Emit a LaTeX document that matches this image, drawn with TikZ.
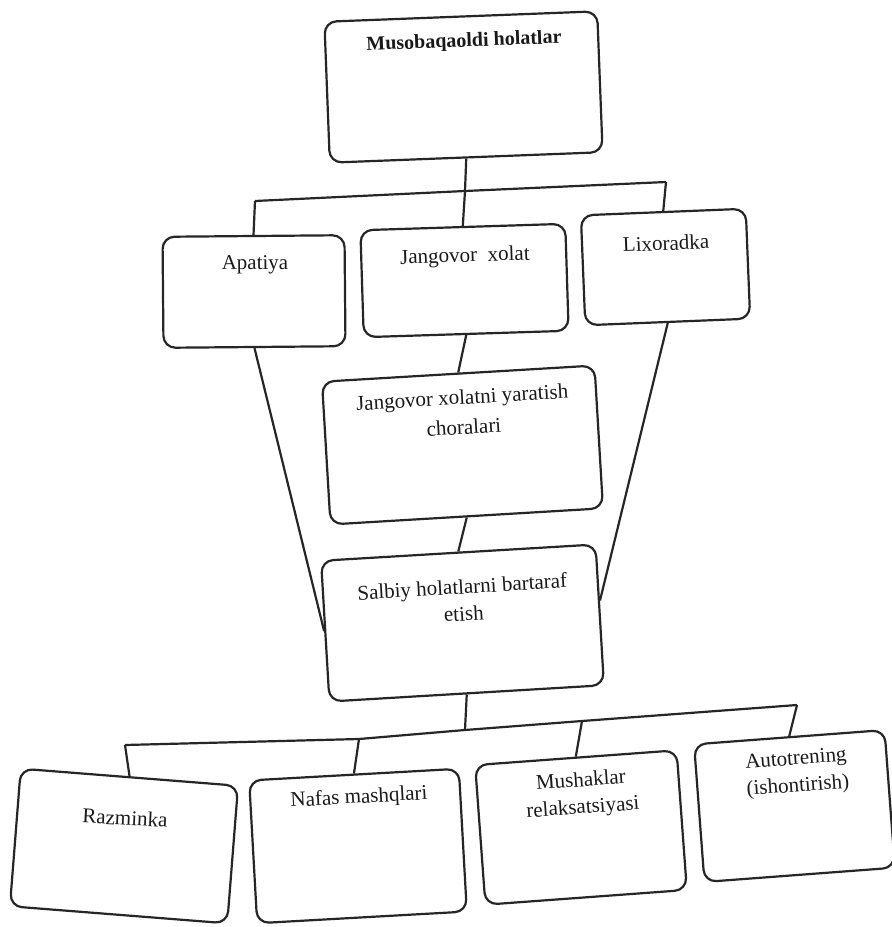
\documentclass[tikz,border=0pt]{standalone}
\usepackage{fontspec}
\setmainfont{Liberation Serif}
\usetikzlibrary{calc}
\begin{document}
\begin{tikzpicture}[x=1pt,y=-1pt,
  box/.style={draw=black!85, line width=2.2pt, rounded corners=12pt, inner sep=0pt},
  lbl/.style={font=\fontsize{21}{25}\selectfont, align=center, inner sep=0pt, text=black!90},
  conn/.style={draw=black!85, line width=2.2pt}
]
\useasboundingbox[fill=white] (0,0) rectangle (892,927);

% boxes
\node[box, minimum width=273pt, minimum height=141pt, rotate=2.2] (top) at (463.5,87) {};
\node[box, minimum width=182pt, minimum height=111pt, rotate=0.5] (apa) at (254,291.5) {};
\node[box, minimum width=205pt, minimum height=107pt, rotate=1.8] (jan) at (464.5,280.5) {};
\node[box, minimum width=165pt, minimum height=110pt, rotate=2.3] (lix) at (665.5,267) {};
\node[box, minimum width=273pt, minimum height=143pt, rotate=3.4] (cho) at (462.5,445) {};
\node[box, minimum width=275pt, minimum height=141pt, rotate=3.4] (sal) at (462.5,623) {};
\node[box, minimum width=218pt, minimum height=138pt, rotate=-4.5] (raz) at (124,846) {};
\node[box, minimum width=210pt, minimum height=143pt, rotate=3.2] (naf) at (358,846) {};
\node[box, minimum width=202pt, minimum height=140pt, rotate=4.2] (mus) at (581,827.5) {};
\node[box, minimum width=191pt, minimum height=138pt, rotate=4.3] (aut) at (794.5,806) {};

% texts
\node[lbl, font=\fontsize{20}{25}\selectfont\bfseries, rotate=2.2] (ttop) at (464,42) {Musobaqaoldi holatlar};
\node[lbl, rotate=0.5] (tapa) at (255,265) {Apatiya};
\node[lbl, rotate=1.8] (tjan) at (465,257) {Jangovor\ \ xolat};
\node[lbl, rotate=2.3] (tlix) at (666,243) {Lixoradka};
\node[lbl, font=\fontsize{21}{30}\selectfont, rotate=3.4] (tcho) at (463,412) {Jangovor xolatni yaratish\\choralari};
\node[lbl, font=\fontsize{21}{27}\selectfont, rotate=3.4] (tsal) at (463,600) {Salbiy holatlarni bartaraf\\etish};
\node[lbl, rotate=-3] (traz) at (125,818) {Razminka};
\node[lbl, rotate=3.2] (tnaf) at (359,798) {Nafas mashqlari};
\node[lbl, font=\fontsize{21}{27}\selectfont, rotate=4.2] (tmus) at (582,795) {Mushaklar\\relaksatsiyasi};
\node[lbl, font=\fontsize{21}{27}\selectfont, rotate=4.3] (taut) at (797,773.5) {Autotrening\\(ishontirish)};

% upper bar
\coordinate (a1) at (255,201);
\coordinate (j1) at (465,191);
\coordinate (a3) at (666,182);
\draw[conn] (top.south) -- (j1);
\draw[conn] (a1) -- (j1) -- (a3);
\draw[conn] (a1) -- (apa.north);
\draw[conn] (j1) -- (jan.north);
\draw[conn] (a3) -- (lix.north);

% middle chain
\draw[conn] (jan.south) -- (cho.north);
\draw[conn] (cho.south) -- (sal.north);
\draw[conn] (apa.south) -- ($(sal.north west)!0.5!(sal.south west)$);
\draw[conn] (lix.south) -- ($(sal.north east)!0.4!(sal.south east)$);

% lower bar
\coordinate (b1) at (125,745);
\coordinate (b2) at (359,739);
\coordinate (j2) at (465,730);
\coordinate (b3) at (582,721);
\coordinate (b4) at (797,705);
\draw[conn] (sal.south) -- (j2);
\draw[conn] (b1) -- (b2) -- (j2) -- (b3) -- (b4);
\draw[conn] (b1) -- (raz.north);
\draw[conn] (b2) -- (naf.north);
\draw[conn] (b3) -- (mus.north);
\draw[conn] (b4) -- (aut.north);
\end{tikzpicture}
\end{document}
